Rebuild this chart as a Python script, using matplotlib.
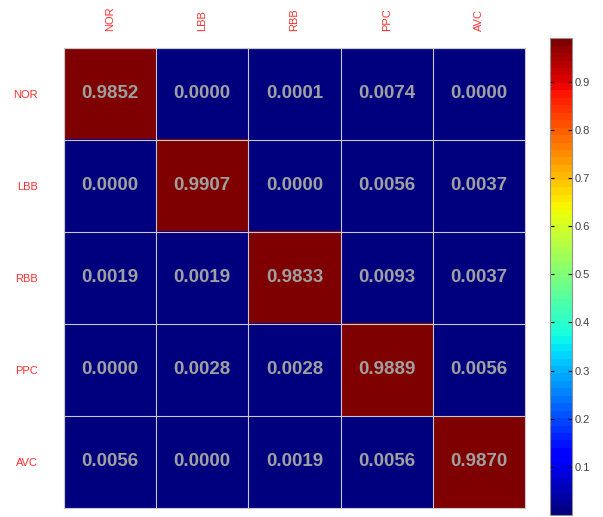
import matplotlib
matplotlib.use("Agg")
import matplotlib.pyplot as plt
import numpy as np

classes = ["NOR", "LBB", "RBB", "PPC", "AVC"]
nor = [0.9852, 0.0000, 0.0001, 0.0074, 0.0000]
lbb = [0.0000, 0.9907, 0.0000, 0.0056, 0.0037]
rbb = [0.0019, 0.0019, 0.9833, 0.0093, 0.0037]
ppc = [0.0000, 0.0028, 0.0028, 0.9889, 0.0056]
avc = [0.0056, 0.0000, 0.0019, 0.0056, 0.9870]
cbar_ticks = [0.1, 0.2, 0.3, 0.4, 0.5, 0.6, 0.7, 0.8, 0.9]

plt.rcParams["font.family"] = ["Liberation Sans", "DejaVu Sans"]

cm = np.array([nor, lbb, rbb, ppc, avc])
n = len(classes)

fig = plt.figure(figsize=(6.03, 5.17), dpi=100)
ax = fig.add_axes([0.106, 0.0174, 0.765, 0.89])
cax = fig.add_axes([0.912, 0.004, 0.037, 0.922])

cmap = plt.get_cmap("jet", 64)
im = ax.imshow(cm, cmap=cmap, vmin=cm.min(), vmax=cm.max(), aspect="auto")

for i in range(n):
    for j in range(n):
        ax.text(j, i, "%.4f" % cm[i, j], ha="center", va="center",
                color="#a0a0a0", fontsize=13.5, fontweight="bold")

ax.set_xticks(np.arange(n) - 0.5, minor=True)
ax.set_yticks(np.arange(n) - 0.5, minor=True)
ax.grid(which="minor", color="#c8c8c8", linewidth=0.8)
ax.tick_params(which="minor", length=0)
ax.set_xticks(range(n))
ax.set_yticks(range(n))
ax.set_xticklabels(classes, rotation=90, color="#ff3030", fontsize=8)
ax.set_yticklabels(classes, color="#ff3030", fontsize=8)
ax.xaxis.tick_top()
ax.tick_params(axis="x", which="major", length=0, pad=12)
ax.tick_params(axis="y", which="major", length=0, pad=19)
for s in ax.spines.values():
    s.set_color("#c8c8c8")

cb = fig.colorbar(im, cax=cax, ticks=cbar_ticks)
cb.ax.tick_params(labelsize=8, labelcolor="#404040", direction="in",
                  length=3, left=True, right=True, pad=2)
cb.ax.set_yticklabels(["%.1f" % t for t in cbar_ticks])
cb.outline.set_edgecolor("#909090")

fig.savefig("out.png", dpi=100)
